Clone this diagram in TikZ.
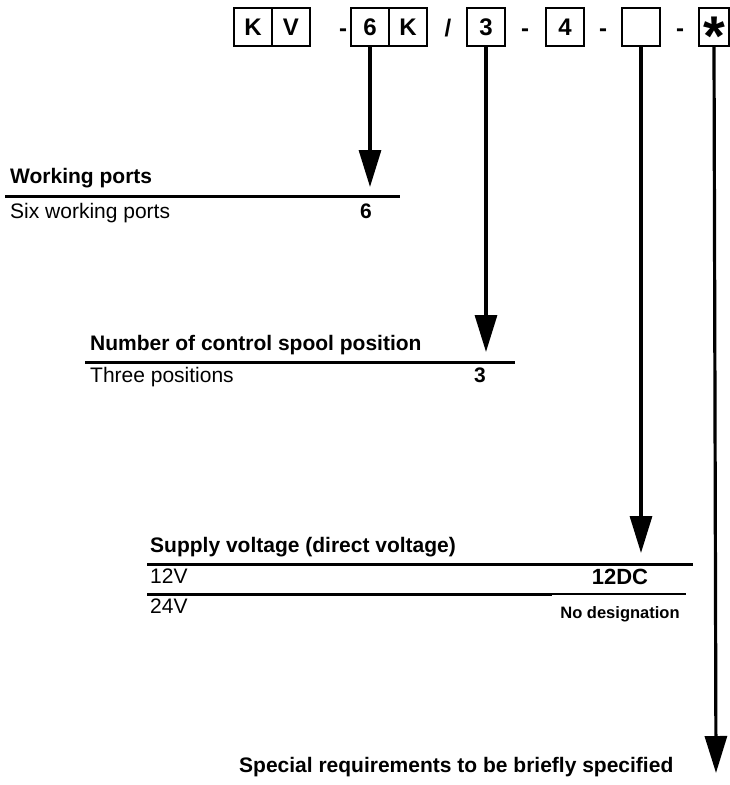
\documentclass[tikz,border=0pt]{standalone}
\usepackage{fontspec}
\setmainfont{Liberation Sans}
\usetikzlibrary{arrows.meta, positioning}

\begin{document}
\begin{tikzpicture}[
  x=1pt, y=-1pt,
  cell/.style={rectangle, draw, line width=2.8pt, outer sep=0pt, inner sep=0pt, minimum width=38pt, minimum height=38pt, font=\fontsize{24}{24}\selectfont\bfseries},
  sep/.style={anchor=base, inner sep=0pt, font=\fontsize{24}{24}\selectfont\bfseries},
  pointer/.style={-{Triangle[width=22pt, length=37pt]}, line width=3.2pt},
  rule/.style={line width=3pt},
  thinrule/.style={line width=1.4pt},
  head/.style={anchor=base west, inner sep=0pt, font=\fontsize{21}{21}\selectfont\bfseries},
  item/.style={anchor=base west, inner sep=0pt, font=\fontsize{21}{21}\selectfont},
  code/.style={anchor=base, inner sep=0pt, font=\fontsize{21}{21}\selectfont\bfseries}
]
\useasboundingbox (0,0) rectangle (729,785);

% type code row
\node[cell] (k1) at (253,27) {K};
\node[cell, right=0pt of k1] (v1) {V};
\node[sep] (d1) at (343,36) {-};
\node[cell] (six) at (370,27) {6};
\node[cell, right=0pt of six] (k2) {K};
\node[sep] (sl) at (448,36) {/};
\node[cell] (three) at (486,27) {3};
\node[sep] (d2) at (525,36) {-};
\node[cell] (four) at (565,27) {4};
\node[sep] (d3) at (603,36) {-};
\node[cell] (volt) at (641,27) {};
\node[sep] (d4) at (680,36) {-};
\node[cell, minimum width=30pt] (spec) at (714,27) {};
\node[inner sep=0pt, yshift=-9pt, font=\fontsize{56}{56}\selectfont\bfseries] (star) at (spec.center) {*};

% working ports
\coordinate (t1) at (370,187);
\draw[pointer] (six.south) -- (t1);
\node[head] (wph) at (10,183) {Working ports};
\draw[rule] (5,196) -- (400,196);
\node[item] (wp1) at (10,218) {Six working ports};
\node[code] (wp2) at (366,218) {6};

% spool positions
\coordinate (t2) at (486,352);
\draw[pointer] (three.south) -- (t2);
\node[head] (sph) at (90,350) {Number of control spool position};
\draw[rule] (85,362) -- (515,362);
\node[item] (sp1) at (90,382) {Three positions};
\node[code] (sp2) at (480,382) {3};

% supply voltage
\coordinate (t3) at (641,553);
\draw[pointer] (volt.south) -- (t3);
\node[head] (svh) at (150,552) {Supply voltage (direct voltage)};
\draw[rule] (147,564) -- (693,564);
\node[item] (sv1) at (150,583) {12V};
\node[code, font=\fontsize{22}{22}\selectfont\bfseries] (sv2) at (620,584) {12DC};
\draw[rule] (147,594) -- (552,594);
\draw[thinrule] (552,594) -- (686,594);
\node[item] (sv3) at (150,613) {24V};
\node[code, font=\fontsize{16.5}{16.5}\selectfont\bfseries] (sv4) at (620,618) {No designation};

% special requirements
\coordinate (t4) at (716,773);
\draw[pointer] (spec.south) -- (t4);
\node[head] (srh) at (239,772) {Special requirements to be briefly specified};
\end{tikzpicture}
\end{document}
